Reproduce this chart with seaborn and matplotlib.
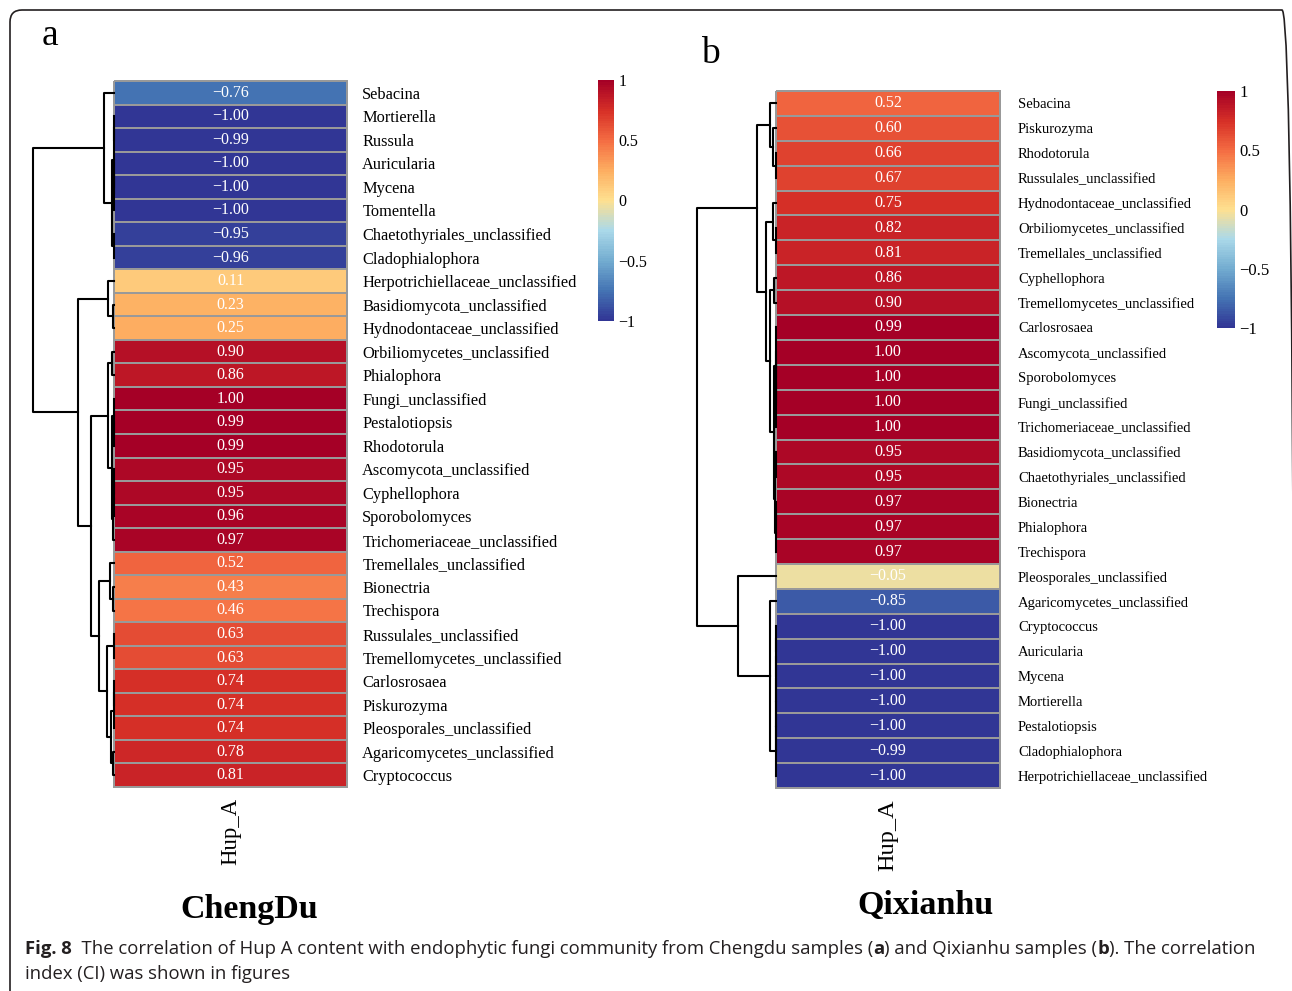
import numpy as np
import pandas as pd
import matplotlib
matplotlib.use("Agg")
import matplotlib.pyplot as plt
from matplotlib.colors import LinearSegmentedColormap
from matplotlib.patches import FancyBboxPatch
from matplotlib.offsetbox import TextArea, HPacker, AnchoredOffsetbox
import seaborn as sns

# ---------------------------------------------------------------------------
# DATA
# ---------------------------------------------------------------------------
cd_taxa = ["Sebacina", "Mortierella", "Russula", "Auricularia", "Mycena",
           "Tomentella", "Chaetothyriales_unclassified", "Cladophialophora",
           "Herpotrichiellaceae_unclassified", "Basidiomycota_unclassified",
           "Hydnodontaceae_unclassified", "Orbiliomycetes_unclassified",
           "Phialophora", "Fungi_unclassified", "Pestalotiopsis", "Rhodotorula",
           "Ascomycota_unclassified", "Cyphellophora", "Sporobolomyces",
           "Trichomeriaceae_unclassified", "Tremellales_unclassified",
           "Bionectria", "Trechispora", "Russulales_unclassified",
           "Tremellomycetes_unclassified", "Carlosrosaea", "Piskurozyma",
           "Pleosporales_unclassified", "Agaricomycetes_unclassified",
           "Cryptococcus"]
cd_corr = [-0.76, -1.00, -0.99, -1.00, -1.00, -1.00, -0.95, -0.96,
           0.11, 0.23, 0.25, 0.90, 0.86, 1.00, 0.99, 0.99, 0.95, 0.95,
           0.96, 0.97, 0.52, 0.43, 0.46, 0.63, 0.63, 0.74, 0.74, 0.74,
           0.78, 0.81]

qx_taxa = ["Sebacina", "Piskurozyma", "Rhodotorula", "Russulales_unclassified",
           "Hydnodontaceae_unclassified", "Orbiliomycetes_unclassified",
           "Tremellales_unclassified", "Cyphellophora",
           "Tremellomycetes_unclassified", "Carlosrosaea",
           "Ascomycota_unclassified", "Sporobolomyces", "Fungi_unclassified",
           "Trichomeriaceae_unclassified", "Basidiomycota_unclassified",
           "Chaetothyriales_unclassified", "Bionectria", "Phialophora",
           "Trechispora", "Pleosporales_unclassified",
           "Agaricomycetes_unclassified", "Cryptococcus", "Auricularia",
           "Mycena", "Mortierella", "Pestalotiopsis", "Cladophialophora",
           "Herpotrichiellaceae_unclassified"]
qx_corr = [0.52, 0.60, 0.66, 0.67, 0.75, 0.82, 0.81, 0.86, 0.90, 0.99,
           1.00, 1.00, 1.00, 1.00, 0.95, 0.95, 0.97, 0.97, 0.97, -0.05,
           -0.85, -1.00, -1.00, -1.00, -1.00, -1.00, -0.99, -1.00]

sample_name = "Hup_A"
cbar_ticks = [-1, -0.5, 0, 0.5, 1]
cbar_labels = ["\u22121", "\u22120.5", "0", "0.5", "1"]
palette = ["#313695", "#4575B4", "#74ADD1", "#ABD9E9", "#FEE090",
           "#FDAE61", "#F46D43", "#D73027", "#A50026"]

plt.rcParams["font.family"] = ["Liberation Serif", "DejaVu Sans"]
cmap = LinearSegmentedColormap.from_list("ci", palette, N=100)


def draw_dendrogram(ax, values):
    # complete linkage on the 1-D values, merging neighbours in display order
    clusters = [([v], i + 0.5, 0.0) for i, v in enumerate(values)]
    while len(clusters) > 1:
        gaps = [max(abs(a - b) for a in c1[0] for b in c2[0])
                for c1, c2 in zip(clusters[:-1], clusters[1:])]
        k = int(np.argmin(gaps))
        (m1, y1, h1), (m2, y2, h2) = clusters[k], clusters[k + 1]
        h = gaps[k]
        ax.plot([h1, h, h, h2], [y1, y1, y2, y2], color="black", lw=1.5,
                solid_capstyle="projecting", clip_on=False)
        clusters[k:k + 2] = [(m1 + m2, (y1 + y2) / 2, h)]
    ax.set_xlim(2.05, 0)
    ax.set_ylim(len(values), 0)
    ax.axis("off")


def draw_panel(fig, heat_pos, dend_pos, cbar_pos, taxa, corr,
               row_size, row_pad, col_size, cbar_size):
    ax = fig.add_axes(heat_pos)
    ax_d = fig.add_axes(dend_pos)
    ax_c = fig.add_axes(cbar_pos)
    df = pd.DataFrame({sample_name: corr}, index=taxa)
    annot = np.array([[f"{v:.2f}".replace("-", "\u2212")] for v in corr])
    sns.heatmap(df, ax=ax, cmap=cmap, vmin=-1, vmax=1, annot=annot, fmt="",
                annot_kws=dict(color="white", fontsize=11.5),
                linewidths=1.3, linecolor="#999999", cbar_ax=ax_c,
                yticklabels=True, xticklabels=True)
    ax.collections[0].set_clip_on(False)
    ax.yaxis.tick_right()
    ax.tick_params(axis="y", length=0, labelsize=row_size, pad=row_pad,
                   labelrotation=0)
    ax.tick_params(axis="x", length=0, labelsize=col_size, pad=8,
                   labelrotation=90)
    ax.set_xlabel("")
    ax.set_ylabel("")
    cbar = ax.collections[0].colorbar
    cbar.outline.set_visible(False)
    cbar.set_ticks(cbar_ticks, labels=cbar_labels)
    cbar.ax.tick_params(length=0, labelsize=cbar_size, pad=3)
    draw_dendrogram(ax_d, corr)


def main():
    W, H = 1292, 991
    fig = plt.figure(figsize=(W / 100, H / 100), dpi=100)

    def box(x0, y0, x1, y1):
        return [x0 / W, 1 - y1 / H, (x1 - x0) / W, (y1 - y0) / H]

    # ChengDu
    draw_panel(fig, box(114, 81, 347, 787), box(31, 81, 114, 787),
               box(598, 80, 614, 321), cd_taxa, cd_corr,
               row_size=11.8, row_pad=11, col_size=16.4, cbar_size=11.5)
    # Qixianhu
    draw_panel(fig, box(776, 91, 1000, 788), box(695, 91, 776, 788),
               box(1217, 91, 1235, 328), qx_taxa, qx_corr,
               row_size=10.5, row_pad=13, col_size=17.5, cbar_size=12)

    fig.text(42 / W, 1 - 45 / H, "a", fontsize=27, ha="left", va="baseline")
    fig.text(701 / W, 1 - 63 / H, "b", fontsize=27, ha="left", va="baseline")
    fig.text(249 / W, 1 - 918 / H, "ChengDu", fontsize=24.5,
             fontweight="bold", ha="center", va="baseline")
    fig.text(925 / W, 1 - 914 / H, "Qixianhu", fontsize=24.5,
             fontweight="bold", ha="center", va="baseline")

    # caption
    cap = dict(family="Open Sans", fontsize=13.3, color="#231f20")
    capb = dict(cap, fontweight="bold")
    pieces = [("Fig. 8", capb),
              ("  The correlation of Hup A content with endophytic fungi "
               "community from Chengdu samples (", cap),
              ("a", capb), (") and Qixianhu samples (", cap), ("b", capb),
              ("). The correlation", cap)]
    pack = HPacker(children=[TextArea(s, textprops=p) for s, p in pieces],
                   align="baseline", pad=0, sep=0)
    fig.add_artist(AnchoredOffsetbox(loc="lower left", child=pack, pad=0,
                                     borderpad=0, frameon=False,
                                     bbox_to_anchor=(25 / W, 1 - 958 / H),
                                     bbox_transform=fig.transFigure))
    fig.text(25 / W, 1 - 979 / H, "index (CI) was shown in figures",
             ha="left", va="baseline", **cap)

    # rounded frame around the figure
    frame = FancyBboxPatch((0.10, -0.5), 12.84, 10.31,
                           boxstyle="round,pad=0,rounding_size=0.12",
                           transform=fig.dpi_scale_trans, fill=False,
                           lw=1.2, ec="#231f20")
    fig.add_artist(frame)

    fig.savefig("out.png", dpi=100)


if __name__ == "__main__":
    main()
